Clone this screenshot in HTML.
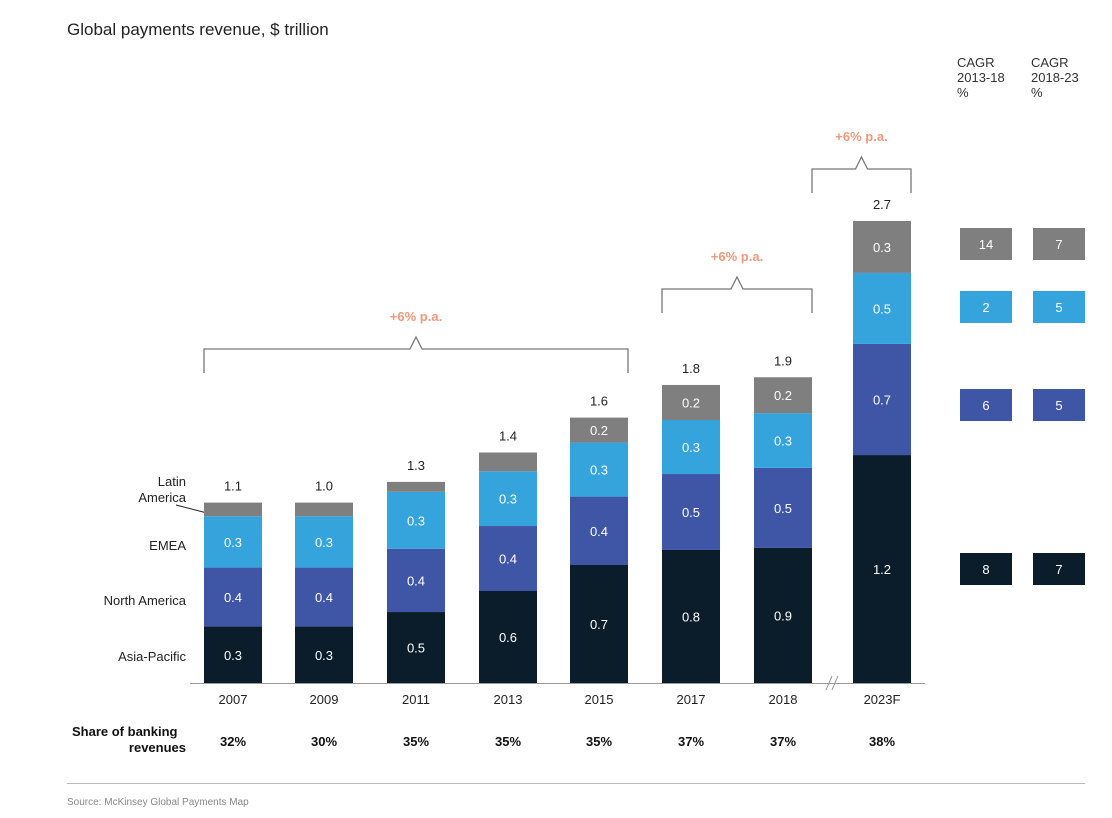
<!DOCTYPE html>
<html><head><meta charset="utf-8"><style>
body{margin:0;background:#fff;font-family:"Liberation Sans",sans-serif;}
svg text{font-family:"Liberation Sans",sans-serif;}
</style></head><body>
<svg id="c" width="1112" height="813">
<text x="67" y="35" font-size="17" fill="#222">Global payments revenue, $ trillion</text>
<g font-size="13" fill="#333">
<text x="957" y="67">CAGR</text><text x="957" y="82">2013-18</text><text x="957" y="97">%</text>
<text x="1031" y="67">CAGR</text><text x="1031" y="82">2018-23</text><text x="1031" y="97">%</text>
</g>
<g font-size="13" fill="#222" text-anchor="end">
<text x="186" y="486">Latin</text><text x="186" y="502">America</text>
<text x="186" y="550">EMEA</text>
<text x="186" y="605">North America</text>
<text x="186" y="661">Asia-Pacific</text>
</g>
<line x1="176" y1="505" x2="207" y2="513" stroke="#222" stroke-width="1"/>
<line x1="190" y1="683.5" x2="925" y2="683.5" stroke="#999"/>
<g stroke="#999"><line x1="826" y1="690" x2="832" y2="676"/><line x1="832" y1="690" x2="838" y2="676"/></g>
<text x="72" y="736" font-size="13" font-weight="bold" fill="#111">Share of banking</text>
<text x="186" y="752" font-size="13" font-weight="bold" fill="#111" text-anchor="end">revenues</text>
<line x1="67" y1="783.5" x2="1085" y2="783.5" stroke="#bbb"/>
<text x="67" y="805" font-size="10" fill="#888">Source: McKinsey Global Payments Map</text>
<g id="bars"></g><g id="brackets"></g><g id="cagr"></g>
</svg>
<script>
const years=["2007","2009","2011","2013","2015","2017","2018","2023F"];
const asiaPacific=[0.33,0.33,0.415,0.538,0.69,0.778,0.79,1.333];
const northAmerica=[0.345,0.345,0.37,0.38,0.40,0.444,0.468,0.65];
const emea=[0.30,0.30,0.333,0.32,0.316,0.316,0.32,0.415];
const latinAmerica=[0.08,0.08,0.058,0.11,0.146,0.205,0.21,0.304];
const apLabels=["0.3","0.3","0.5","0.6","0.7","0.8","0.9","1.2"];
const naLabels=["0.4","0.4","0.4","0.4","0.4","0.5","0.5","0.7"];
const emeaLabels=["0.3","0.3","0.3","0.3","0.3","0.3","0.3","0.5"];
const laLabels=["","","","","0.2","0.2","0.2","0.3"];
const totalLabels=["1.1","1.0","1.3","1.4","1.6","1.8","1.9","2.7"];
const shares=["32%","30%","35%","35%","35%","37%","37%","38%"];
const cagr1=["14","2","6","8"];
const cagr2=["7","5","5","7"];
const NS="http://www.w3.org/2000/svg";
const base=683,scale=171;
const xs=[204,295,387,479,570,662,754,853],bw=58;
const y=v=>base-v*scale;
function mk(t,a,p){const e=document.createElementNS(NS,t);for(const k in a)e.setAttribute(k,a[k]);p.appendChild(e);return e;}
const bars=document.getElementById('bars');
const series=[[asiaPacific,"#0b1d2b",apLabels,"asia-pacific"],[northAmerica,"#3f55a6",naLabels,"north-america"],[emea,"#35a3dc",emeaLabels,"emea"],[latinAmerica,"#7f7f7f",laLabels,"latin-america"]];
years.forEach((yr,i)=>{
 let cum=0;
 series.forEach(([vals,col,labs,nm])=>{
  const v=vals[i];const r=mk('rect',{x:xs[i],y:y(cum+v),width:bw,height:v*scale,fill:col},bars);
  
  
  if(labs[i]){const t=mk('text',{x:xs[i]+bw/2,y:y(cum+v/2)+5,'font-size':13,fill:'#fff','text-anchor':'middle'},bars);t.textContent=labs[i];
   
   }
  cum+=v;
 });
 const tt=mk('text',{x:xs[i]+bw/2,y:y(cum)-12,'font-size':13,fill:'#222','text-anchor':'middle'},bars);tt.textContent=totalLabels[i];
 
 
 const yl=mk('text',{x:xs[i]+bw/2,y:704,'font-size':13,fill:'#222','text-anchor':'middle'},bars);yl.textContent=yr;
 
 
 const sl=mk('text',{x:xs[i]+bw/2,y:746,'font-size':13,'font-weight':'bold',fill:'#111','text-anchor':'middle'},bars);sl.textContent=shares[i];
 
 
});
const br=document.getElementById('brackets');
[[0,4,349],[5,6,289],[6,7,169]].forEach(([a,b,top],k)=>{
 const x1=k==2?xs[a]+bw:xs[a],x2=xs[b]+bw,mid=(x1+x2)/2;
 const p=mk('path',{d:`M${x1},${top+24}V${top}H${mid-6}L${mid},${top-12}L${mid+6},${top}H${x2}V${top+24}`,fill:'none',stroke:'#777','stroke-width':1.3},br);
 
 
 const t=mk('text',{x:mid,y:top-28,'font-size':13,'font-weight':'bold',fill:'#f4977a','text-anchor':'middle'},br);t.textContent='+6% p.a.';
 
 
});
const cg=document.getElementById('cagr');
const rowY=[228,291,389,553],rowCol=["#7f7f7f","#35a3dc","#3f55a6","#0b1d2b"];
rowY.forEach((ry,i)=>{
 [[960,cagr1],[1033,cagr2]].forEach(([cx,arr])=>{
  const r=mk('rect',{x:cx,y:ry,width:52,height:32,fill:rowCol[i]},cg);
  
  
  const t=mk('text',{x:cx+26,y:ry+21,'font-size':13,fill:'#fff','text-anchor':'middle'},cg);t.textContent=arr[i];
  
  
 });
});
</script>
</body></html>
